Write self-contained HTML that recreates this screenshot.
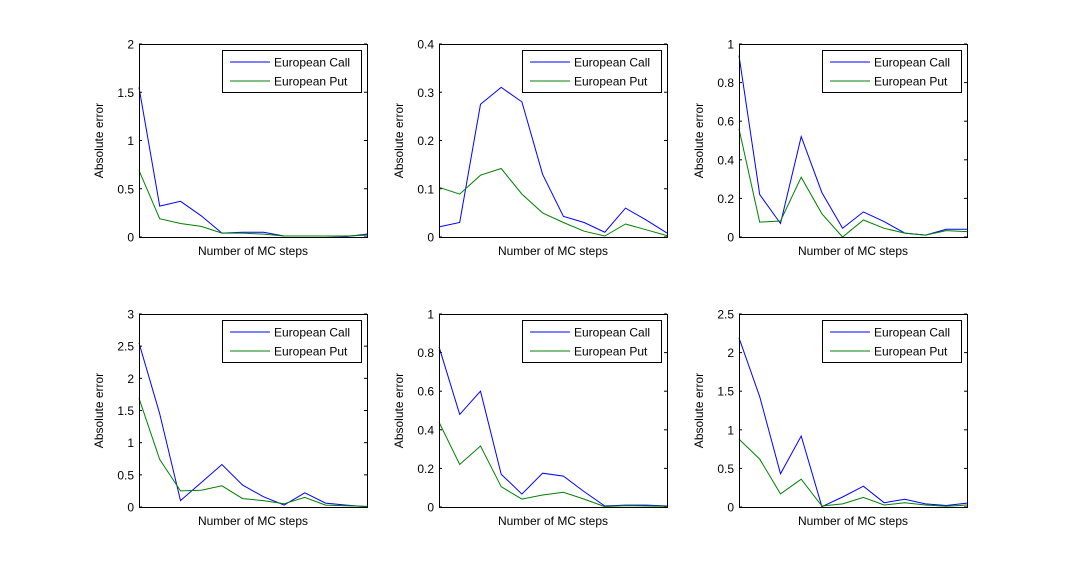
<!DOCTYPE html>
<html><head><meta charset="utf-8"><style>
html,body{margin:0;padding:0;background:#fff;}
svg{display:block;font-family:"Liberation Sans",sans-serif;}
</style></head><body>
<svg id="fig" width="1068" height="570" viewBox="0 0 1068 570" xmlns="http://www.w3.org/2000/svg"></svg>
<script>
const panelMax = [2, 0.4, 1, 3, 1, 2.5];
const panelTicks = [
 ["0","0.5","1","1.5","2"],
 ["0","0.1","0.2","0.3","0.4"],
 ["0","0.2","0.4","0.6","0.8","1"],
 ["0","0.5","1","1.5","2","2.5","3"],
 ["0","0.2","0.4","0.6","0.8","1"],
 ["0","0.5","1","1.5","2","2.5"]
];
const callP1 = [1.55,0.32,0.37,0.22,0.04,0.05,0.05,0.01,0.01,0.01,0.005,0.03];
const putP1  = [0.69,0.19,0.14,0.11,0.04,0.04,0.03,0.01,0.01,0.01,0.01,0.02];
const callP2 = [0.021,0.03,0.275,0.31,0.28,0.13,0.043,0.03,0.01,0.06,0.035,0.008];
const putP2  = [0.103,0.089,0.128,0.142,0.089,0.05,0.03,0.012,0.002,0.027,0.015,0.003];
const callP3 = [0.94,0.22,0.07,0.52,0.23,0.045,0.13,0.08,0.02,0.01,0.04,0.04];
const putP3  = [0.56,0.077,0.083,0.31,0.12,0.0,0.088,0.045,0.02,0.01,0.033,0.028];
const callP4 = [2.55,1.45,0.1,0.38,0.66,0.34,0.16,0.03,0.22,0.06,0.03,0.005];
const putP4  = [1.69,0.74,0.25,0.26,0.33,0.13,0.1,0.05,0.15,0.03,0.02,0.01];
const callP5 = [0.83,0.48,0.6,0.17,0.067,0.175,0.16,0.08,0.005,0.01,0.01,0.005];
const putP5  = [0.44,0.22,0.316,0.105,0.041,0.062,0.076,0.041,0.002,0.007,0.005,0.003];
const callP6 = [2.19,1.43,0.43,0.92,0.004,0.13,0.27,0.056,0.1,0.04,0.02,0.05];
const putP6  = [0.88,0.62,0.17,0.36,0.013,0.04,0.125,0.026,0.056,0.026,0.01,0.026];
const callSeries = [callP1,callP2,callP3,callP4,callP5,callP6];
const putSeries = [putP1,putP2,putP3,putP4,putP5,putP6];

const NS="http://www.w3.org/2000/svg";
const svg=document.getElementById('fig');
function mk(tag,attrs,parent){const e=document.createElementNS(NS,tag);for(const k in attrs)e.setAttribute(k,attrs[k]);(parent||svg).appendChild(e);return e;}
const lefts=[139,439,739], tops=[44,314], W=228, H=193;
for(let p=0;p<6;p++){
  const x0=lefts[p%3], y0=tops[Math.floor(p/3)];
  const g=mk('g',{});
  
  
  const n=callSeries[p].length;
  const xs=i=>x0+i*W/(n-1);
  const ys=v=>y0+H-v/panelMax[p]*H;
  // ticks
  const ticks=panelTicks[p];
  ticks.forEach((t,i)=>{
    const y=ys(parseFloat(t));
    mk('line',{x1:x0,y1:y,x2:x0+3,y2:y,stroke:'#000','stroke-width':1},g);
    mk('line',{x1:x0+W,y1:y,x2:x0+W-3,y2:y,stroke:'#000','stroke-width':1},g);
    const tl=mk('text',{x:x0-5,y:y+4.5,'text-anchor':'end','font-size':12,fill:'#000'},g);
    
    
    tl.textContent=t;
  });
  const series=[[callSeries[p],'#0000ff','call-line'],[putSeries[p],'#008000','put-line']];
  series.forEach(([arr,col,nm])=>{
    const pl=mk('polyline',{points:arr.map((v,i)=>xs(i).toFixed(1)+','+ys(v).toFixed(1)).join(' '),fill:'none',stroke:col,'stroke-width':1},g);
    
    
  });
  const box=mk('rect',{x:x0+0.5,y:y0+0.5,width:W,height:H,fill:'none',stroke:'#000','stroke-width':1},g);
  
  
  const yl=mk('text',{x:0,y:0,transform:`translate(${x0-36},${y0+H/2}) rotate(-90)`,'text-anchor':'middle','font-size':12},g);
  
  
  yl.textContent='Absolute error';
  const xl=mk('text',{x:x0+W/2,y:y0+H+18,'text-anchor':'middle','font-size':12},g);
  
  
  xl.textContent='Number of MC steps';
  // legend
  const lg=mk('g',{},g);
  
  
  mk('rect',{x:x0+83.5,y:y0+6.5,width:139,height:42,fill:'#fff',stroke:'#000','stroke-width':1},lg);
  [['European Call','#0000ff',y0+18],['European Put','#008000',y0+37]].forEach(([t,c,y])=>{
    mk('line',{x1:x0+91,y1:y,x2:x0+131,y2:y,stroke:c,'stroke-width':1},lg);
    const tt=mk('text',{x:x0+135,y:y+4.5,'font-size':12},lg);
    
    
    tt.textContent=t;
  });
}
</script>
</body></html>
